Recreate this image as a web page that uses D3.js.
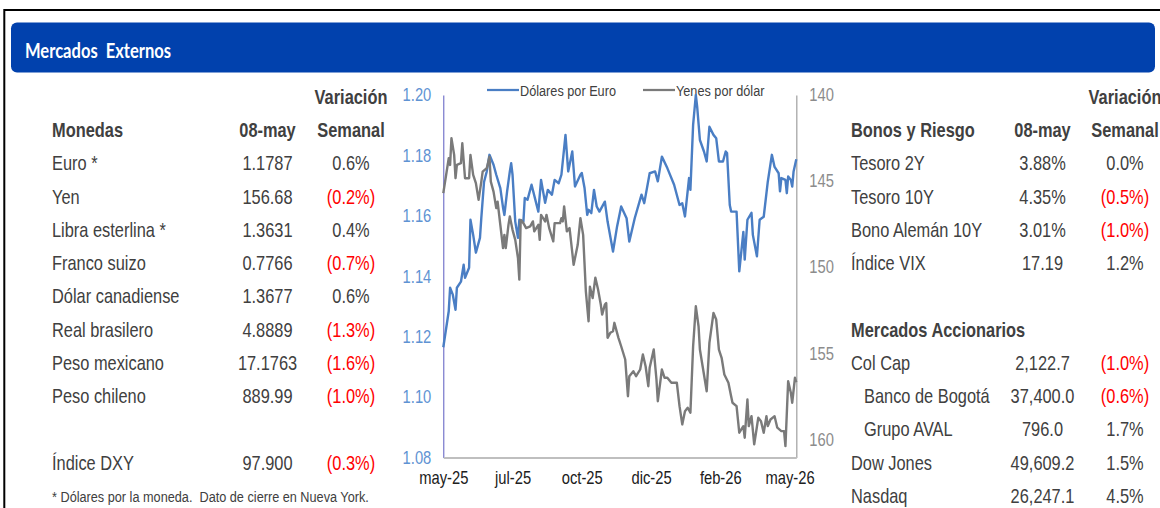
<!DOCTYPE html>
<html>
<head>
<meta charset="utf-8">
<script src="https://cdn.jsdelivr.net/npm/d3@7"></script>
<style>
  body { margin: 0; background: #fff; }
</style>
</head>
<body>
<script>
// Tabla de monedas
const monedas = ['Euro *', 'Yen', 'Libra esterlina *', 'Franco suizo', 'Dólar canadiense', 'Real brasilero', 'Peso mexicano', 'Peso chileno'];
const monedasValor = ['1.1787', '156.68', '1.3631', '0.7766', '1.3677', '4.8889', '17.1763', '889.99'];
const monedasVar = [0.6, -0.2, 0.4, -0.7, 0.6, -1.3, -1.6, -1.0];
const dxy = { nombre: 'Índice DXY', valor: '97.900', variacion: -0.3 };

// Bonos y riesgo
const bonos = ['Tesoro 2Y', 'Tesoro 10Y', 'Bono Alemán 10Y', 'Índice VIX'];
const bonosValor = ['3.88%', '4.35%', '3.01%', '17.19'];
const bonosVar = [0.0, -0.5, -1.0, 1.2];

// Mercados accionarios
const acciones = ['Col Cap', 'Banco de Bogotá', 'Grupo AVAL', 'Dow Jones', 'Nasdaq'];
const accionesValor = ['2,122.7', '37,400.0', '796.0', '49,609.2', '26,247.1'];
const accionesVar = [-1.0, -0.6, 1.7, 1.5, 4.5];
const accionesSangria = [false, true, true, false, false];

// Grafico: dia habil (0 = may-25 ... 260 = 08-may-26) y valor
const nDias = 261;
const xTickDias = [0, 51, 102, 153, 204, 255];
const xTickLabels = ['may-25', 'jul-25', 'oct-25', 'dic-25', 'feb-26', 'may-26'];
const eurTicks = [1.08, 1.10, 1.12, 1.14, 1.16, 1.18, 1.20];
const jpyTicks = [140, 145, 150, 155, 160];

const eurDias = [0, 4, 5, 7, 9, 10, 13, 15, 16, 19, 20, 22, 24, 27, 28, 30, 32, 34, 37, 39, 42, 44, 45, 47, 49, 50, 51, 53, 55, 56,
  59, 60, 62, 65, 70, 72, 75, 77, 80, 82, 85, 87, 90, 92, 95, 97, 101, 102, 104, 106, 107, 109, 111, 113, 115, 119, 121, 125, 128, 131,
  135, 137, 141, 146, 148, 152, 156, 158, 161, 165, 170, 174, 176, 178, 181, 182, 184, 186, 187, 189, 192, 194, 196, 199, 201, 203, 206, 208, 209, 211,
  212, 216, 218, 221, 222, 224, 227, 228, 231, 233, 236, 239, 242, 244, 247, 248, 249, 252, 253, 254, 256, 257, 258, 260];
const eurValores = [1.1165, 1.1284, 1.1362, 1.1339, 1.1289, 1.1362, 1.1382, 1.1438, 1.1395, 1.1428, 1.1587, 1.1537, 1.1478, 1.1527, 1.1593, 1.1712, 1.1747, 1.1802, 1.1769, 1.1736, 1.1692, 1.1627, 1.1603, 1.1681, 1.1747, 1.1774, 1.1736, 1.1581, 1.1527, 1.1587,
  1.1581, 1.1659, 1.1653, 1.1703, 1.1614, 1.1719, 1.1643, 1.1686, 1.1670, 1.1719, 1.1708, 1.1736, 1.1868, 1.1747, 1.1813, 1.1697, 1.1736, 1.1742, 1.1693, 1.1603, 1.1620, 1.1609, 1.1686, 1.1631, 1.1614, 1.1647, 1.1581, 1.1482, 1.1565, 1.1631,
  1.1592, 1.1515, 1.1592, 1.1670, 1.1642, 1.1741, 1.1747, 1.1714, 1.1796, 1.1758, 1.1703, 1.1636, 1.1642, 1.1598, 1.1725, 1.1686, 1.1901, 1.2000, 1.1961, 1.1851, 1.1813, 1.1780, 1.1895, 1.1868, 1.1857, 1.1780, 1.1780, 1.1813, 1.1808, 1.1636,
  1.1614, 1.1614, 1.1416, 1.1547, 1.1455, 1.1587, 1.1610, 1.1537, 1.1466, 1.1587, 1.1597, 1.1713, 1.1802, 1.1762, 1.1741, 1.1681, 1.1725, 1.1719, 1.1675, 1.1730, 1.1719, 1.1697, 1.1747, 1.1787];

const jpyDias = [0, 4, 5, 6, 8, 9, 10, 13, 14, 16, 19, 20, 22, 24, 26, 28, 29, 32, 34, 35, 37, 39, 40, 42, 44, 45, 46, 48, 49, 51,
  53, 55, 56, 57, 59, 61, 64, 66, 67, 70, 71, 72, 75, 76, 78, 81, 82, 86, 87, 88, 89, 91, 93, 96, 99, 101, 103, 105, 107, 108,
  110, 112, 114, 116, 117, 119, 120, 121, 123, 125, 126, 129, 131, 134, 136, 137, 140, 142, 145, 147, 149, 151, 152, 155, 157, 158, 161, 163, 165, 168,
  172, 174, 176, 178, 180, 182, 184, 186, 188, 189, 191, 194, 196, 199, 201, 203, 205, 207, 210, 212, 213, 216, 218, 221, 222, 224, 225, 227, 229, 232,
  234, 236, 238, 239, 241, 244, 246, 249, 251, 252, 254, 256, 257, 259, 260];
const jpyValores = [145.70, 143.67, 144.06, 142.51, 143.48, 144.83, 144.06, 143.96, 142.80, 144.83, 144.83, 143.48, 144.64, 145.12, 146.09, 145.03, 144.45, 144.25, 143.58, 145.03, 145.61, 146.57, 146.19, 147.54, 148.89, 148.12, 148.89, 147.54, 147.05, 147.83,
  148.41, 149.47, 150.72, 147.25, 147.44, 147.73, 147.63, 147.34, 147.92, 147.54, 148.41, 146.96, 147.34, 146.96, 147.73, 148.50, 147.44, 147.44, 147.15, 147.34, 146.47, 147.92, 147.73, 149.86, 148.70, 147.15, 148.12, 151.40, 153.14, 151.13,
  151.79, 150.61, 151.30, 152.17, 152.75, 152.17, 152.08, 154.10, 153.81, 153.72, 153.23, 154.10, 154.59, 155.36, 157.49, 156.33, 156.04, 156.33, 155.94, 155.07, 155.75, 156.91, 155.84, 154.78, 156.52, 157.78, 155.94, 156.42, 156.42, 156.71,
  156.71, 158.07, 159.13, 158.36, 158.16, 158.45, 154.59, 152.27, 153.43, 154.78, 155.75, 157.20, 154.39, 152.66, 153.04, 154.78, 155.26, 156.23, 156.71, 157.49, 157.87, 158.07, 159.61, 159.23, 159.90, 157.68, 159.23, 158.65, 160.29, 158.74,
  158.94, 159.61, 158.65, 159.23, 158.84, 158.65, 159.32, 159.52, 159.52, 160.39, 156.62, 157.29, 157.87, 156.42, 156.68];

const serieEur = eurDias.map((d, i) => [d, eurValores[i]]);
const serieJpy = jpyDias.map((d, i) => [d, jpyValores[i]]);

// Estilos (Arial Narrow no esta: Liberation Sans comprimida en horizontal)
const FONT = '"Liberation Sans", Arial, sans-serif';
const SQUEEZE = 0.82;
const TEXTO = '#404040';
const ROJO = '#ff0000';
const AZUL = '#4a7ec4';
const GRIS = '#7a7a7a';

const width = 1160;
const height = 508;

const svg = d3.select('body')
  .append('svg')
  .attr('width', width)
  .attr('height', height)
  .style('font-family', FONT);

// Marco y encabezado
svg.append('path')
  .attr('d', `M4.3,${height} V10 H${width}`)
  .attr('fill', 'none')
  .attr('stroke', '#000')
  .attr('stroke-width', 2);

svg.append('rect')
  .attr('x', 11)
  .attr('y', 22.5)
  .attr('width', 1144)
  .attr('height', 50)
  .attr('rx', 6)
  .attr('fill', '#0141ad');

svg.append('text')
  .attr('x', 25)
  .attr('y', 57.5)
  .attr('fill', '#fff')
  .attr('textLength', 146)
  .attr('lengthAdjust', 'spacingAndGlyphs')
  .style('font-family', 'Lato, "Open Sans", sans-serif')
  .style('font-weight', 700)
  .style('font-size', '20.5px')
  .style('white-space', 'pre')
  .text('Mercados  Externos');

const fmtVar = v => v < 0 ? `(${Math.abs(v).toFixed(1)}%)` : `${v.toFixed(1)}%`;
const rowY = i => 170.3 + i * 33.25;

function addText(g, x, y, txt, opts = {}) {
  return g.append('text')
    .attr('transform', `translate(${x},${y}) scale(${SQUEEZE},1)`)
    .attr('text-anchor', opts.anchor || 'start')
    .attr('fill', opts.fill || TEXTO)
    .style('font-size', (opts.size || 20) + 'px')
    .style('font-weight', opts.bold ? 700 : 400)
    .style('white-space', 'pre')
    .text(txt);
}

// Tabla izquierda
const left = svg.append('g');
addText(left, 351, 103.5, 'Variación', { anchor: 'middle', bold: true });
addText(left, 52, 136.5, 'Monedas', { bold: true });
addText(left, 267.5, 136.5, '08-may', { anchor: 'middle', bold: true });
addText(left, 351, 136.5, 'Semanal', { anchor: 'middle', bold: true });

monedas.forEach((m, i) => {
  addText(left, 52, rowY(i), m);
  addText(left, 267.5, rowY(i), monedasValor[i], { anchor: 'middle' });
  addText(left, 351, rowY(i), fmtVar(monedasVar[i]), { anchor: 'middle', fill: monedasVar[i] < 0 ? ROJO : TEXTO });
});
addText(left, 52, rowY(9), dxy.nombre);
addText(left, 267.5, rowY(9), dxy.valor, { anchor: 'middle' });
addText(left, 351, rowY(9), fmtVar(dxy.variacion), { anchor: 'middle', fill: dxy.variacion < 0 ? ROJO : TEXTO });
addText(left, 52, 501.5, '* Dólares por la moneda.  Dato de cierre en Nueva York.', { size: 15.5 });

// Tabla derecha
const right = svg.append('g');
addText(right, 1125, 103.5, 'Variación', { anchor: 'middle', bold: true });
addText(right, 851, 136.5, 'Bonos y Riesgo', { bold: true });
addText(right, 1042.5, 136.5, '08-may', { anchor: 'middle', bold: true });
addText(right, 1125, 136.5, 'Semanal', { anchor: 'middle', bold: true });

bonos.forEach((b, i) => {
  addText(right, 851, rowY(i), b);
  addText(right, 1042.5, rowY(i), bonosValor[i], { anchor: 'middle' });
  addText(right, 1125, rowY(i), fmtVar(bonosVar[i]), { anchor: 'middle', fill: bonosVar[i] < 0 ? ROJO : TEXTO });
});

addText(right, 851, rowY(5), 'Mercados Accionarios', { bold: true });
acciones.forEach((a, i) => {
  addText(right, accionesSangria[i] ? 864 : 851, rowY(i + 6), a);
  addText(right, 1042.5, rowY(i + 6), accionesValor[i], { anchor: 'middle' });
  addText(right, 1125, rowY(i + 6), fmtVar(accionesVar[i]), { anchor: 'middle', fill: accionesVar[i] < 0 ? ROJO : TEXTO });
});

// Grafico
const plot = { left: 443.3, right: 796.3, top: 95, bottom: 457.5 };

const x = d3.scaleLinear()
  .domain([0, nDias - 1])
  .range([plot.left, plot.right]);

const yEur = d3.scaleLinear()
  .domain([1.08, 1.20])
  .range([plot.bottom, plot.top]);

const yJpy = d3.scaleLinear()
  .domain([140, 161.05])
  .range([plot.top, plot.bottom]);

const chart = svg.append('g');

// Ejes
const axisLeft = chart.append('g')
  .attr('transform', `translate(${plot.left},0)`)
  .call(d3.axisLeft(yEur).tickValues(eurTicks).tickFormat(d3.format('.2f')).tickSize(0).tickPadding(12 / SQUEEZE));
axisLeft.select('.domain').attr('stroke', '#5a5ac0').attr('stroke-width', 1);
axisLeft.selectAll('text')
  .attr('transform', `scale(${SQUEEZE},1)`)
  .attr('fill', '#5f93d3')
  .style('font-family', FONT)
  .style('font-size', '18px');

const axisRight = chart.append('g')
  .attr('transform', `translate(${plot.right},0)`)
  .call(d3.axisRight(yJpy).tickValues(jpyTicks).tickSize(0).tickPadding(13 / SQUEEZE));
axisRight.select('.domain').attr('stroke', '#a6a6a6').attr('stroke-width', 1.3);
axisRight.selectAll('text')
  .attr('transform', `scale(${SQUEEZE},1)`)
  .attr('fill', '#8c8c8c')
  .style('font-family', FONT)
  .style('font-size', '18px');

const axisBottom = chart.append('g')
  .attr('transform', `translate(0,${plot.bottom})`)
  .call(d3.axisBottom(x).tickValues(xTickDias).tickFormat((d, i) => xTickLabels[i]).tickSize(0).tickPadding(14));
axisBottom.select('.domain').attr('stroke', '#bfbfbf').attr('stroke-width', 2);
axisBottom.selectAll('text')
  .attr('transform', `scale(${SQUEEZE},1)`)
  .attr('fill', '#202020')
  .style('font-family', FONT)
  .style('font-size', '18px');

// Leyenda
const legend = chart.append('g')
  .attr('transform', 'translate(0,90)');
const legendItems = [
  { label: 'Dólares por Euro', color: AZUL, x: 487 },
  { label: 'Yenes por dólar', color: GRIS, x: 643 }
];
legendItems.forEach(item => {
  legend.append('line')
    .attr('x1', item.x)
    .attr('x2', item.x + 32)
    .attr('stroke', item.color)
    .attr('stroke-width', 2.25);
  addText(legend, item.x + 33, 5.5, item.label, { size: 15.5 });
});

// Series
const lineEur = d3.line()
  .x(d => x(d[0]))
  .y(d => yEur(d[1]));

const lineJpy = d3.line()
  .x(d => x(d[0]))
  .y(d => yJpy(d[1]));

chart.append('path')
  .datum(serieEur)
  .attr('d', lineEur)
  .attr('fill', 'none')
  .attr('stroke', AZUL)
  .attr('stroke-width', 2.4)
  .attr('stroke-linejoin', 'round');

chart.append('path')
  .datum(serieJpy)
  .attr('d', lineJpy)
  .attr('fill', 'none')
  .attr('stroke', GRIS)
  .attr('stroke-width', 2.4)
  .attr('stroke-linejoin', 'round');
</script>
</body>
</html>
